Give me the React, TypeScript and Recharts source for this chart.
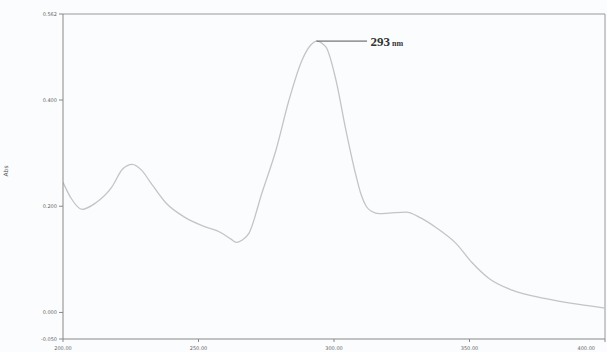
import React from "react";
import { LineChart, Line, XAxis, YAxis, ReferenceLine, ReferenceDot } from "recharts";

const wavelengths = [200, 203, 207, 212, 218, 222, 225.5, 229, 232, 238, 245, 252, 258, 262, 264, 266, 268.6, 273.4, 278.6, 283.4, 288.2, 291.5, 293.5, 297, 300.7, 304.4, 308.1, 310, 312, 314, 316.6, 320.3, 326.6, 332, 337.6, 345, 350.9, 357.2, 365.7, 378.2, 390.4, 400];
const absorbance = [0.245, 0.215, 0.194, 0.206, 0.236, 0.27, 0.279, 0.268, 0.247, 0.206, 0.179, 0.162, 0.151, 0.138, 0.132, 0.136, 0.149, 0.225, 0.306, 0.4, 0.475, 0.504, 0.511, 0.5, 0.438, 0.343, 0.258, 0.222, 0.199, 0.19, 0.186, 0.187, 0.189, 0.178, 0.16, 0.13, 0.094, 0.064, 0.042, 0.026, 0.015, 0.008];
const xTicks = [200, 250, 300, 350, 400];
const yTicks = [-0.05, 0, 0.2, 0.4, 0.562];
const peakNm = 293.5;
const peakAbs = 0.511;
const peakLabel = "293";

const data = wavelengths.map((w, i) => ({ nm: w, abs: absorbance[i] }));

const XTick = (props: any) => {
  const { x, y, payload, index } = props;
  const last = payload.value === 400;
  return (
    <text
      x={x}
      y={y + 6}
      fontSize={5}
      fill="#666"
      fontFamily="DejaVu Sans"
      textAnchor={last ? "end" : "middle"}
    >
      {Number(payload.value).toFixed(2)}
    </text>
  );
};

export default function App() {
  return (
    <div style={{ position: "absolute", left: 0, top: 0, width: 607, height: 352, background: "#fbfcfd" }}>
      <LineChart width={607} height={352} data={data} margin={{ top: 14, right: 2, bottom: 0, left: 0 }}>
        <XAxis
          dataKey="nm"
          type="number"
          domain={[200, 400]}
          ticks={xTicks}
          tick={<XTick />}
          stroke="#888"
          tickSize={3}
          height={13}
          allowDataOverflow
        />
        <YAxis
          type="number"
          domain={[-0.05, 0.562]}
          ticks={yTicks}
          tickFormatter={(v: number) => v.toFixed(3)}
          tick={{ fontSize: 5, fill: "#666", fontFamily: "DejaVu Sans" }}
          stroke="#888"
          tickSize={4}
          width={63}
          allowDataOverflow
          label={{ value: "Abs", angle: -90, position: "insideLeft", offset: 6, style: { fontSize: 6, fill: "#555", fontFamily: "DejaVu Sans" } }}
        />
        <ReferenceLine y={0.562} stroke="#999" ifOverflow="visible" />
        <ReferenceLine x={400} stroke="#999" ifOverflow="visible" />
        <Line
          type="monotone"
          dataKey="abs"
          stroke="#c4c4c4"
          strokeWidth={1.3}
          dot={false}
          isAnimationActive={false}
        />
        <ReferenceLine
          segment={[{ x: peakNm, y: peakAbs }, { x: 312.2, y: peakAbs }]}
          stroke="#555"
          strokeWidth={1}
          ifOverflow="visible"
        />
        <ReferenceDot
          x={313.5}
          y={peakAbs}
          r={0}
          ifOverflow="visible"
          shape={(p: any) => (
            <text x={p.cx} y={p.cy + 5} fontFamily="Liberation Serif" fontWeight="bold" fill="#333">
              <tspan fontSize={13}>{peakLabel}</tspan>
              <tspan fontSize={8} dx={2}>nm</tspan>
            </text>
          )}
        />
      </LineChart>
    </div>
  );
}
